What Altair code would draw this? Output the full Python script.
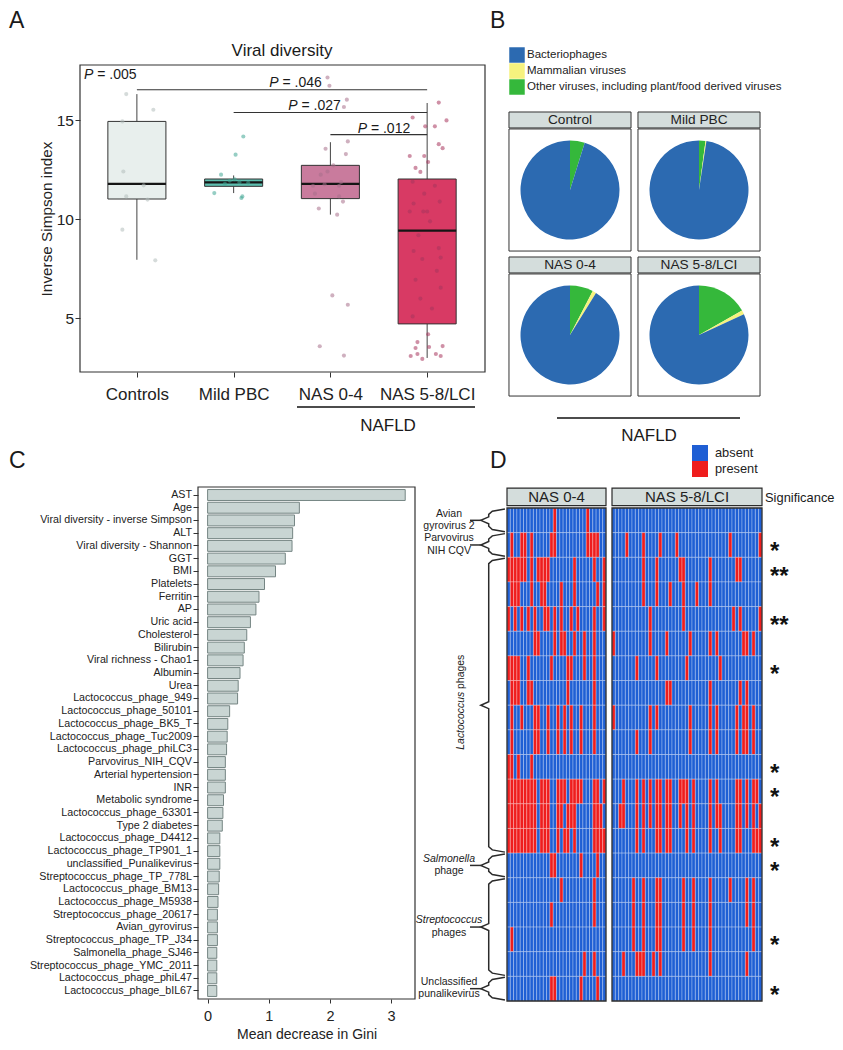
import math
import altair as alt
import pandas as pd

FONT = "Liberation Sans"
W, H = 827, 1034

# ===================== Panel A : viral diversity =====================
groups_A = ["Controls", "Mild PBC", "NAS 0-4", "NAS 5-8/LCI"]
box_lo = [7.96, 11.33, 10.24, 3.00]
box_q1 = [11.03, 11.67, 11.05, 4.72]
box_med = [11.79, 11.87, 11.79, 9.43]
box_q3 = [14.95, 12.04, 12.73, 12.04]
box_hi = [16.33, 12.22, 13.90, 15.88]

ctrl_vals = [16.33, 15.54, 14.95, 12.42, 11.72, 11.16, 11.00, 9.48, 7.93]
ctrl_jit = [-0.11, 0.17, -0.15, -0.14, 0.07, -0.11, 0.11, -0.15, 0.19]
mild_vals = [14.19, 13.27, 12.26, 12.03, 11.95, 11.88, 11.85, 11.80, 11.33, 11.16, 11.08]
mild_jit = [0.10, 0.02, -0.13, 0.01, -0.04, 0.06, 0.15, -0.09, -0.20, 0.09, 0.08]
nas04_vals = [17.17, 16.75, 16.05, 15.68, 13.94, 13.57, 13.30, 12.73, 12.42, 12.26, 11.88, 11.78,
              11.70, 11.70, 11.30, 11.16, 10.90, 10.55, 10.24, 6.16, 5.69, 3.59, 3.12]
nas04_jit = [-0.03, -0.01, 0.17, 0.14, 0.18, -0.05, 0.16, 0.03, -0.03, -0.10, 0.11, -0.06,
             -0.18, 0.09, -0.16, 0.09, 0.13, -0.12, 0.07, 0.02, 0.18, -0.11, 0.14]
nas58_vals = [15.90, 15.15, 15.00, 14.70, 14.70, 13.80, 13.60, 13.20, 13.20, 12.90, 12.60, 12.40,
              11.90, 11.70, 11.30, 10.90, 10.80, 10.40, 10.40, 10.40, 9.90, 9.20, 8.55, 8.40,
              8.07, 8.00, 7.40, 6.95, 6.55, 6.00, 5.50, 5.10, 4.20, 3.80, 3.60, 3.55, 3.50,
              3.20, 3.20, 3.10, 3.10, 2.95]
nas58_jit = [0.12, -0.15, 0.20, -0.02, 0.08, 0.12, 0.16, -0.18, -0.03, 0.01, -0.12, -0.07,
             -0.15, 0.08, -0.03, 0.13, -0.14, -0.18, -0.04, 0.00, 0.03, -0.09, 0.12, -0.14,
             0.14, -0.05, 0.10, -0.12, 0.14, -0.07, 0.05, -0.15, 0.01, -0.10, 0.16, 0.02, -0.12,
             -0.10, 0.09, -0.17, 0.14, -0.05]

p_overall = "= .005"
p_labels = ["= .046", "= .027", "= .012"]
p_from = [1, 2, 3]
p_to = [4, 4, 4]
p_level = [16.55, 15.40, 14.28]

# ===================== Panel B : pies =====================
pie_groups = ["Control", "Mild PBC", "NAS 0-4", "NAS 5-8/LCI"]
virus_types = ["Bacteriophages", "Mammalian viruses",
               "Other viruses, including plant/food derived viruses"]
bact_pct = [95.2, 97.6, 91.2, 81.9]
mamm_pct = [0.0, 0.3, 1.2, 1.3]
other_pct = [4.8, 2.1, 7.6, 16.8]

# ===================== Panel C : importance =====================
featC = ["AST", "Age", "Viral diversity - inverse Simpson", "ALT", "Viral diversity - Shannon",
         "GGT", "BMI", "Platelets", "Ferritin", "AP", "Uric acid", "Cholesterol", "Bilirubin",
         "Viral richness - Chao1", "Albumin", "Urea", "Lactococcus_phage_949",
         "Lactococcus_phage_50101", "Lactococcus_phage_BK5_T", "Lactococcus_phage_Tuc2009",
         "Lactococcus_phage_phiLC3", "Parvovirus_NIH_CQV", "Arterial hypertension", "INR",
         "Metabolic syndrome", "Lactococcus_phage_63301", "Type 2 diabetes",
         "Lactococcus_phage_D4412", "Lactococcus_phage_TP901_1", "unclassified_Punalikevirus",
         "Streptococcus_phage_TP_778L", "Lactococcus_phage_BM13", "Lactococcus_phage_M5938",
         "Streptococcus_phage_20617", "Avian_gyrovirus", "Streptococcus_phage_TP_J34",
         "Salmonella_phage_SJ46", "Streptococcus_phage_YMC_2011", "Lactococcus_phage_phiL47",
         "Lactococcus_phage_bIL67"]
giniC = [3.23, 1.50, 1.42, 1.39, 1.38, 1.27, 1.11, 0.93, 0.84, 0.79, 0.70, 0.64, 0.60, 0.58,
         0.53, 0.50, 0.49, 0.36, 0.33, 0.32, 0.31, 0.29, 0.29, 0.29, 0.26, 0.25, 0.24, 0.20,
         0.20, 0.20, 0.19, 0.18, 0.17, 0.16, 0.16, 0.16, 0.15, 0.15, 0.15, 0.15]

# ===================== Panel D : presence heatmap =====================
heat_groups = ["NAS 0-4", "NAS 5-8/LCI"]
heat_ncols = [30, 45]
nas04_present = [
    [14, 24],
    [1, 4, 5, 7, 13, 14, 24, 25, 26, 27],
    [0, 1, 2, 3, 4, 5, 7, 9, 10, 11, 12, 20, 26, 29],
    [1, 2, 3, 7, 10, 11, 16, 20, 27, 29],
    [0, 2, 4, 6, 8, 11, 12, 14, 16, 19, 21, 26, 29],
    [8, 9, 14, 16, 17, 20, 23, 26],
    [0, 1, 2, 3, 6, 13, 18, 19, 23, 26],
    [1, 2, 3, 6, 7, 18, 26],
    [1, 4, 8, 9, 12, 15, 17, 19, 22, 26],
    [1, 8, 9, 12, 15, 17, 19, 22, 26],
    [0, 1, 3, 7],
    [0, 1, 2, 3, 4, 5, 6, 7, 8, 10, 11, 12, 15, 16, 17, 19, 20, 21, 22, 26, 27, 29],
    [0, 1, 2, 3, 4, 5, 6, 7, 8, 10, 11, 12, 15, 16, 18, 19, 20, 26, 27, 28],
    [0, 1, 2, 3, 4, 5, 6, 7, 8, 10, 11, 12, 15, 17, 18, 20, 26, 27, 28, 29],
    [13, 14, 22, 27],
    [16, 26],
    [13, 26],
    [1],
    [23, 26],
    [13, 14, 22, 27],
]
nas58_present = [
    [],
    [4, 9, 14, 19, 35, 44],
    [9, 13, 20, 21, 29, 37, 38],
    [9, 13, 17, 21, 25, 29],
    [11, 21, 36, 38, 44],
    [0, 11, 16, 23, 29, 31, 39, 40, 42],
    [7, 13, 22, 32],
    [16, 17, 29, 38, 40],
    [0, 11, 13, 23, 29, 31, 37, 39, 40, 42],
    [7, 11, 23, 29, 31, 37, 39, 40, 42],
    [],
    [3, 7, 9, 11, 13, 14, 16, 17, 20, 21, 22, 24, 29, 31, 37, 38, 40, 42, 43],
    [2, 3, 7, 9, 11, 13, 14, 16, 17, 20, 22, 24, 29, 31, 32, 37, 38, 40, 42, 44],
    [7, 9, 13, 14, 16, 17, 22, 24, 29, 32, 37, 38, 42, 43, 44],
    [],
    [6, 9, 13, 14, 21, 24, 29, 35, 40, 42],
    [6, 9, 13, 14, 21, 24, 29, 40, 42],
    [6, 9, 13, 14, 21, 24, 29, 42],
    [3, 7, 8, 9, 12, 14, 29, 40],
    [],
]
significance = ["", "*", "**", "", "**", "", "*", "", "", "", "*", "*", "", "*", "*",
                "", "", "*", "", "*"]
bracket_names = ["Avian gyrovirus 2", "Parvovirus NIH CQV", "Lactococcus phages",
                 "Salmonella phage", "Streptococcus phages", "Unclassified punalikevirus"]
bracket_first = [0, 1, 2, 14, 15, 19]
bracket_last = [0, 1, 13, 14, 18, 19]
bracket_line1 = ["Avian", "Parvovirus", "", "Salmonella", "Streptococcus", "Unclassified"]
bracket_line2 = ["gyrovirus 2", "NIH CQV", "", "phage", "phages", "punalikevirus"]
bracket_italic1 = [False, False, False, True, True, False]

# ===================== styles =====================
box_colors = ["#e8efed", "#5cbdae", "#c97b9d", "#d83a64"]
pt_colors = ["#b3bebb", "#3fa593", "#a86f8b", "#a8345c"]
pie_colors = ["#2c6ab1", "#f6f27e", "#35b83b"]
BLUE, RED = "#1f5fd4", "#ef1d1d"
DARK = "#2b2b2b"

one = pd.DataFrame({"k": [0]})
layers = []


def txt(text, x, y, size, align="left", baseline="alphabetic", style="normal",
        weight="normal", angle=0, color="#1a1a1a"):
    kw = dict(text=text, fontSize=size, font=FONT, align=align, baseline=baseline,
              fontStyle=style, fontWeight=weight, color=color)
    if angle:
        kw["angle"] = angle
    return alt.Chart(one).mark_text(**kw).encode(x=alt.value(x), y=alt.value(y))


# ---------- Panel A ----------
xA = alt.Scale(domain=[0.412, 4.598], range=[72, 477], nice=False, zero=False)
yA = alt.Scale(domain=[2.29, 17.8], range=[364, 57], nice=False, zero=False)
colA = alt.Scale(domain=groups_A, range=box_colors)
colAp = alt.Scale(domain=groups_A, range=pt_colors)

boxA = pd.DataFrame({"grp": groups_A, "pos": [1, 2, 3, 4], "lo": box_lo, "q1": box_q1,
                     "med": box_med, "q3": box_q3, "hi": box_hi})
boxA["xl"] = boxA["pos"] - 0.3
boxA["xr"] = boxA["pos"] + 0.3

pts = []
for i, (vals, jit) in enumerate([(ctrl_vals, ctrl_jit), (mild_vals, mild_jit),
                                 (nas04_vals, nas04_jit), (nas58_vals, nas58_jit)]):
    for v, j in zip(vals, jit):
        pts.append({"grp": groups_A[i], "val": v, "xj": i + 1 + j})
ptsA = pd.DataFrame(pts)

labelExprA = ""
for i, g in enumerate(groups_A[:-1]):
    labelExprA += f"datum.value == {i + 1} ? '{g}' : "
labelExprA += f"'{groups_A[-1]}'"

layers.append(alt.Chart(boxA).mark_rule(color="#444", strokeWidth=1).encode(
    x=alt.X("pos:Q", scale=xA, axis=None), y=alt.Y("lo:Q", scale=yA, axis=None), y2="q1:Q"))
layers.append(alt.Chart(boxA).mark_rule(color="#444", strokeWidth=1).encode(
    x=alt.X("pos:Q", scale=xA, axis=None), y=alt.Y("q3:Q", scale=yA, axis=None), y2="hi:Q"))
layers.append(alt.Chart(boxA).mark_rect(stroke="#333", strokeWidth=1).encode(
    x=alt.X("xl:Q", scale=xA, axis=alt.Axis(
        orient="bottom", offset=364 - H, values=[1, 2, 3, 4], labelExpr=labelExprA,
        tickSize=5, labelFontSize=17, labelPadding=9, title=None, domain=False,
        labelFlush=False, labelOverlap=False)),
    x2="xr:Q",
    y=alt.Y("q1:Q", scale=yA, axis=alt.Axis(
        orient="left", offset=-72, values=[5, 10, 15], tickSize=5, labelFontSize=15.5,
        labelPadding=1.5, title="Inverse Simpson index", titleFontSize=15.3,
        titlePadding=2, domain=False)),
    y2="q3:Q",
    color=alt.Color("grp:N", scale=colA, legend=None)))
layers.append(alt.Chart(boxA).mark_rule(color="#151515", strokeWidth=2.2).encode(
    x=alt.X("xl:Q", scale=xA, axis=None), x2="xr:Q", y=alt.Y("med:Q", scale=yA, axis=None)))
layers.append(alt.Chart(ptsA).mark_circle(size=17, opacity=0.55).encode(
    x=alt.X("xj:Q", scale=xA, axis=None), y=alt.Y("val:Q", scale=yA, axis=None),
    color=alt.Color("grp:N", scale=colAp, legend=None)))
brA = pd.DataFrame({"x0": p_from, "x1": p_to, "lvl": p_level})
layers.append(alt.Chart(brA).mark_rule(color="#333", strokeWidth=1.1).encode(
    x=alt.X("x0:Q", scale=xA, axis=None), x2="x1:Q", y=alt.Y("lvl:Q", scale=yA, axis=None)))
layers.append(alt.Chart(one).mark_rect(fillOpacity=0, stroke="#333", strokeWidth=1.2).encode(
    x=alt.value(72), x2=alt.value(477), y=alt.value(57), y2=alt.value(364)))

layers.append(txt("A", 1, 20, 23))
layers.append(txt("Viral diversity", 274, 48, 17, align="center"))
p_pos = [(76, 71.3), (261.3, 78.7), (280.3, 102), (349.7, 124.7)]
for (px, py), lab in zip(p_pos, [p_overall] + p_labels):
    layers.append(txt("P", px, py, 14, style="italic"))
    layers.append(txt(lab, px + 13.2, py, 14))
layers.append(alt.Chart(one).mark_rule(color="#111", strokeWidth=1.6).encode(
    x=alt.value(289), x2=alt.value(467), y=alt.value(399)))
layers.append(txt("NAFLD", 380, 423, 17, align="center"))

# ---------- Panel B ----------
xB = alt.Scale(domain=[0, 1], range=[562, 691], nice=False, zero=False)
yB = alt.Scale(domain=[0, 1], range=[182, 327], nice=False, zero=False)
pp = pd.DataFrame({"name": pie_groups, "pc": [0, 1, 0, 1], "pr": [0, 0, 1, 1]})
pp["x0"] = pp["pc"] - 0.473
pp["x1"] = pp["pc"] + 0.473
pp["y0"] = pp["pr"] - 0.421
pp["y1"] = pp["pr"] + 0.421
pp["sy0"] = pp["pr"] - 0.538
pp["sy1"] = pp["pr"] - 0.428
pp["ty"] = pp["pr"] - 0.483

rows = []
for i, g in enumerate(pie_groups):
    tot = bact_pct[i] + mamm_pct[i] + other_pct[i]
    start = 0.0
    for t, v in [(virus_types[2], other_pct[i]), (virus_types[1], mamm_pct[i]),
                 (virus_types[0], bact_pct[i])]:
        rows.append({"grp": g, "type": t, "pc": i % 2, "pr": i // 2,
                     "t0": start / tot, "t1": (start + v) / tot})
        start += v
pieB = pd.DataFrame(rows)

layers.append(alt.Chart(pp).mark_rect(fill="white", stroke="#333", strokeWidth=1).encode(
    x=alt.X("x0:Q", scale=xB, axis=None), x2="x1:Q",
    y=alt.Y("y0:Q", scale=yB, axis=None), y2="y1:Q"))
layers.append(alt.Chart(pp).mark_rect(fill="#d4dddc", stroke="#333", strokeWidth=1).encode(
    x=alt.X("x0:Q", scale=xB, axis=None), x2="x1:Q",
    y=alt.Y("sy0:Q", scale=yB, axis=None), y2="sy1:Q"))
layers.append(alt.Chart(pp).mark_text(font=FONT, fontSize=13.7, fontWeight="normal",
                                      baseline="middle", color="#222").encode(
    x=alt.X("pc:Q", scale=xB, axis=None), y=alt.Y("ty:Q", scale=yB, axis=None),
    text="name:N"))
layers.append(alt.Chart(pieB).mark_arc(outerRadius=49.5).encode(
    x=alt.X("pc:Q", scale=xB, axis=None), y=alt.Y("pr:Q", scale=yB, axis=None),
    theta=alt.Theta("t0:Q", scale=alt.Scale(domain=[0, 1], range=[0, 2 * math.pi])),
    theta2="t1:Q",
    color=alt.Color("type:N", scale=alt.Scale(domain=virus_types, range=pie_colors),
                    legend=alt.Legend(orient="none", legendX=501, legendY=39, title=None,
                                      symbolType="square", symbolSize=240,
                                      symbolStrokeWidth=0, labelFontSize=11.5,
                                      labelFont=FONT, rowPadding=0, padding=0,
                                      labelOffset=2, labelLimit=400, labelColor="#222"))))
layers.append(txt("B", 482, 20, 23))
layers.append(alt.Chart(one).mark_rule(color="#111", strokeWidth=1.6).encode(
    x=alt.value(549), x2=alt.value(732), y=alt.value(410)))
layers.append(txt("NAFLD", 641, 433, 17, align="center"))

# ---------- Panel C ----------
xC = alt.Scale(domain=[-0.157, 3.39], range=[190, 407], nice=False, zero=False)
yC = alt.Scale(domain=featC, range=[479, 991], paddingInner=0.14, paddingOuter=0.2)
dfC = pd.DataFrame({"feat": featC, "val": giniC, "zero": [0.0] * len(featC)})
layers.append(alt.Chart(dfC).mark_bar(fill="#c9d5d3", stroke="#758583", strokeWidth=1).encode(
    x=alt.X("zero:Q", scale=xC, axis=alt.Axis(
        orient="bottom", offset=991 - H, values=[0, 1, 2, 3], tickSize=4,
        labelFontSize=14.5, labelPadding=6, title="Mean decrease in Gini",
        titleFontSize=14, titlePadding=5, domain=False, labelFlush=False)),
    x2="val:Q",
    y=alt.Y("feat:N", scale=yC, axis=alt.Axis(
        orient="left", offset=-190, tickSize=5, labelFontSize=10.7, labelPadding=1.5,
        title=None, domain=False, labelLimit=300))))
layers.append(alt.Chart(one).mark_rect(fillOpacity=0, stroke="#333", strokeWidth=1.2).encode(
    x=alt.value(190), x2=alt.value(407), y=alt.value(479), y2=alt.value(991)))
layers.append(txt("C", 1, 460, 23))

# ---------- Panel D ----------
yD = alt.Scale(domain=[0, 20], range=[500, 993], nice=False, zero=False)
xD = [alt.Scale(domain=[0, 30], range=[499, 598], nice=False, zero=False),
      alt.Scale(domain=[0, 45], range=[604, 754], nice=False, zero=False)]


def heat_df(present, ncols):
    out = []
    for r, cols in enumerate(present):
        s = set(cols)
        for c in range(ncols):
            out.append({"c0": c, "c1": c + 1, "r0": r, "r1": r + 1,
                        "status": "present" if c in s else "absent"})
    return pd.DataFrame(out)


heat_color = alt.Scale(domain=["absent", "present"], range=[BLUE, RED])
for gi, (present, nc) in enumerate(zip([nas04_present, nas58_present], heat_ncols)):
    hd = heat_df(present, nc)
    if gi == 0:
        leg = alt.Legend(orient="none", legendX=684, legendY=437, title=None,
                         symbolType="square", symbolSize=256, symbolStrokeWidth=0,
                         labelFontSize=12.8, labelFont=FONT, rowPadding=0, padding=0,
                         labelOffset=7, labelColor="#222")
    else:
        leg = None
    layers.append(alt.Chart(hd).mark_rect(stroke="white", strokeOpacity=0.35,
                                          strokeWidth=0.8).encode(
        x=alt.X("c0:Q", scale=xD[gi], axis=None), x2="c1:Q",
        y=alt.Y("r0:Q", scale=yD, axis=None), y2="r1:Q",
        color=alt.Color("status:N", scale=heat_color, legend=leg)))
    fr = pd.DataFrame({"x0": [0], "x1": [nc], "y0": [0], "y1": [20], "sy0": [-0.81],
                       "sy1": [-0.1], "tx": [nc / 2], "ty": [-0.46], "name": [heat_groups[gi]]})
    layers.append(alt.Chart(fr).mark_rect(fillOpacity=0, stroke=DARK, strokeWidth=1.3).encode(
        x=alt.X("x0:Q", scale=xD[gi], axis=None), x2="x1:Q",
        y=alt.Y("y0:Q", scale=yD, axis=None), y2="y1:Q"))
    layers.append(alt.Chart(fr).mark_rect(fill="#d4dddc", stroke=DARK, strokeWidth=1.2).encode(
        x=alt.X("x0:Q", scale=xD[gi], axis=None), x2="x1:Q",
        y=alt.Y("sy0:Q", scale=yD, axis=None), y2="sy1:Q"))
    layers.append(alt.Chart(fr).mark_text(font=FONT, fontSize=15, fontWeight="normal",
                                          baseline="middle", color="#222").encode(
        x=alt.X("tx:Q", scale=xD[gi], axis=None), y=alt.Y("ty:Q", scale=yD, axis=None),
        text="name:N"))

sigD = pd.DataFrame({"rm": [i + 0.5 for i in range(20)], "s": significance})
sigD = sigD[sigD["s"] != ""]
layers.append(alt.Chart(sigD).mark_text(font=FONT, fontSize=24, fontWeight="bold", align="left",
                                        baseline="middle", dy=7, color="#111").encode(
    x=alt.value(762), y=alt.Y("rm:Q", scale=yD, axis=None), text="s:N"))
layers.append(txt("Significance", 757, 494, 12.9))
layers.append(txt("D", 482, 460, 23))

# brackets
uS = alt.Scale(domain=[0, 1], range=[462, 498], nice=False, zero=False)
br_pts, notch, lab_n, lab_i = [], [], [], []
for b, name in enumerate(bracket_names):
    t, bt = bracket_first[b], bracket_last[b] + 1
    m = (t + bt) / 2
    shape = [(0.97, t + 0.04), (0.62, t + 0.13), (0.52, t + 0.26), (0.52, m - 0.14),
             (0.30, m), (0.52, m + 0.14), (0.52, bt - 0.26), (0.62, bt - 0.13),
             (0.97, bt - 0.04)]
    for k, (u, v) in enumerate(shape):
        br_pts.append({"id": name, "ord": k, "u": u, "v": v})
    if bracket_line1[b]:
        notch.append({"u0": 0.0, "u1": 0.30, "v": m})
        (lab_i if bracket_italic1[b] else lab_n).append({"t": bracket_line1[b], "v": m - 0.27})
        lab_n.append({"t": bracket_line2[b], "v": m + 0.23})
layers.append(alt.Chart(pd.DataFrame(br_pts)).mark_line(color=DARK, strokeWidth=1.5).encode(
    x=alt.X("u:Q", scale=uS, axis=None), y=alt.Y("v:Q", scale=yD, axis=None),
    detail="id:N", order="ord:Q"))
layers.append(alt.Chart(pd.DataFrame(notch)).mark_rule(color=DARK, strokeWidth=1.5).encode(
    x=alt.X("u0:Q", scale=uS, axis=None), x2="u1:Q", y=alt.Y("v:Q", scale=yD, axis=None)))
layers.append(alt.Chart(pd.DataFrame(lab_n)).mark_text(font=FONT, fontSize=10.5,
                                                       baseline="middle", color="#222").encode(
    x=alt.value(441), y=alt.Y("v:Q", scale=yD, axis=None), text="t:N"))
layers.append(alt.Chart(pd.DataFrame(lab_i)).mark_text(font=FONT, fontSize=10.5, fontStyle="italic",
                                                       baseline="middle", color="#222").encode(
    x=alt.value(441), y=alt.Y("v:Q", scale=yD, axis=None), text="t:N"))
lacto = pd.DataFrame({"t": ["Lactococcus"], "v": [7.46]})
phg = pd.DataFrame({"t": ["phages"], "v": [7.34]})
layers.append(alt.Chart(lacto).mark_text(font=FONT, fontSize=10.4, fontStyle="italic", angle=270,
                                         align="right", baseline="middle", color="#222").encode(
    x=alt.value(453), y=alt.Y("v:Q", scale=yD, axis=None), text="t:N"))
layers.append(alt.Chart(phg).mark_text(font=FONT, fontSize=10.4, angle=270,
                                       align="left", baseline="middle", color="#222").encode(
    x=alt.value(453), y=alt.Y("v:Q", scale=yD, axis=None), text="t:N"))

chart = alt.layer(*layers).resolve_scale(
    x="independent", y="independent", color="independent"
).properties(
    width=W, height=H, autosize=alt.AutoSizeParams(type="none"), padding=0
).configure_view(strokeWidth=0).configure_axis(
    labelFont=FONT, titleFont=FONT, grid=False, labelColor="#222", titleColor="#222",
    tickColor="#333", titleFontWeight="normal"
).configure_legend(labelFont=FONT)

chart.save("out.html", embed_options={"renderer": "svg", "actions": False})
